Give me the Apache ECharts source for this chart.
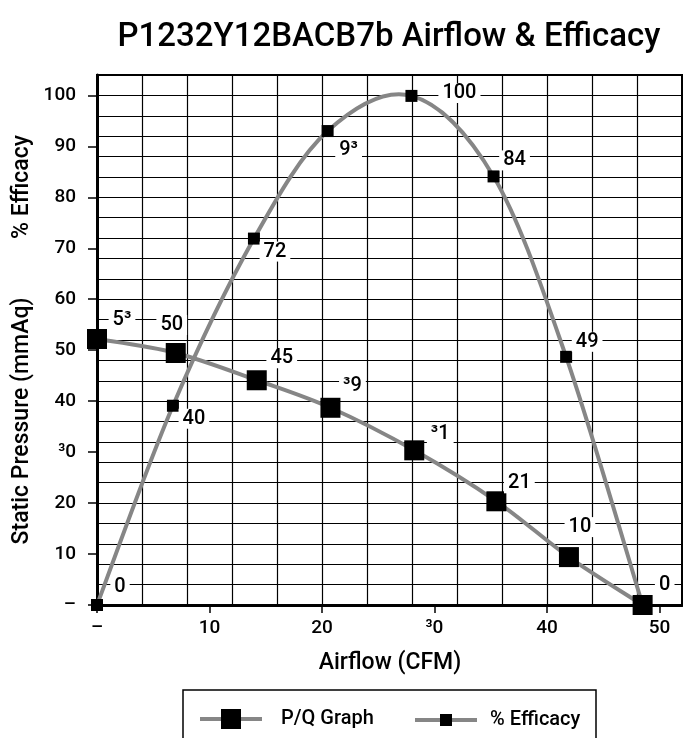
<!DOCTYPE html>
<html><head><meta charset="utf-8">
<script src="https://cdn.jsdelivr.net/npm/echarts@6/dist/echarts.min.js"></script>
<style>html,body{margin:0;padding:0;background:#fff}#c{width:683px;height:738px}</style>
</head><body><div id="c"></div>
<script>
// ---- data ----
const airflowPQ = [0, 7.0, 14.2, 20.75, 28.2, 35.5, 41.95, 48.5];
const pressure  = [52.2, 49.45, 44.1, 38.7, 30.35, 20.35, 9.4, 0];
const pqLabels  = ['5³', '50', '45', '³9', '³1', '21', '10', '0'];
const airflowEff = [0, 6.75, 13.95, 20.5, 27.95, 35.25, 41.7, 48.5];
const efficacy   = [0, 39.1, 71.9, 93.0, 99.9, 84.1, 48.7, 0];
const effLabels  = ['0', '40', '72', '9³', '100', '84', '49', '0'];
const xTickValues = [0, 10, 20, 30, 40, 50];
const xTickText   = ['–', '10', '20', '³0', '40', '50'];
const yTickValues = [0, 10, 20, 30, 40, 50, 60, 70, 80, 90, 100];
const yTickText   = ['–', '10', '20', '³0', '40', '50', '60', '70', '80', '90', '100'];
const seriesNames = ['P/Q Graph', '% Efficacy'];
const titleText = 'P1232Y12BACB7b Airflow & Efficacy';
const xName = 'Airflow (CFM)';
const yName1 = 'Static Pressure (mmAq)';
const yName2 = '% Efficacy';

// ---- label offsets (style only) ----
const pqOffsets  = [[25,-19],[-4,-28],[25,-22],[22,-22],[26,-16],[23,-18],[11,-30],[22,-20]];
const effOffsets = [[23,-18],[21,13],[21,13],[21,19],[48,-3],[21,-16],[21,-15],[22,-20]];

const FONT = 'Roboto';
const lineGray = '#868686';
const chart = echarts.init(document.getElementById('c'), null, {renderer: 'canvas'});

function buildData(xs, ys, offs) {
  return xs.map((x, i) => ({value: [x, ys[i]], label: {offset: offs[i]}}));
}
function pairs(xs, ys) { return xs.map((x, i) => [x, ys[i]]); }

// Smooth curve through the data points (Catmull-Rom segments in pixel space, via the axis scales)
function curveRenderer(xs, ys) {
  return function (params, api) {
    const n = xs.length, i = params.dataIndex;
    if (i >= n - 1) return null;
    const P = k => { k = Math.max(0, Math.min(n - 1, k)); return api.coord([xs[k], ys[k]]); };
    const p0 = P(i - 1), p1 = P(i), p2 = P(i + 1), p3 = P(i + 2);
    return {
      type: 'bezierCurve',
      shape: {
        x1: p1[0], y1: p1[1], x2: p2[0], y2: p2[1],
        cpx1: p1[0] + (p2[0] - p0[0]) / 6, cpy1: p1[1] + (p2[1] - p0[1]) / 6,
        cpx2: p2[0] - (p3[0] - p1[0]) / 6, cpy2: p2[1] - (p3[1] - p1[1]) / 6
      },
      style: {stroke: lineGray, lineWidth: 4, fill: null, lineCap: 'round'}
    };
  };
}

const labelBase = {
  show: true, position: 'inside', color: '#000', fontFamily: FONT, fontSize: 20, fontWeight: 500,
  backgroundColor: '#fff', padding: [0, 4]
};
const legendLine = {color: lineGray, width: 4, opacity: 1};

chart.setOption({
  animation: false,
  backgroundColor: '#fff',
  grid: {left: 97, top: 75, right: 1, bottom: 133, show: true, borderColor: '#000', borderWidth: 2, containLabel: false},
  xAxis: [
    {type: 'value', min: 0, max: 52, interval: 4,
     axisLine: {show: true, onZero: false, lineStyle: {color: '#000', width: 3}},
     axisTick: {show: false}, axisLabel: {show: false},
     splitLine: {show: true, lineStyle: {color: '#000', width: 1.2}}},
    {type: 'value', min: 0, max: 52, position: 'bottom',
     axisLine: {show: false}, splitLine: {show: false},
     axisTick: {show: true, length: 8, customValues: xTickValues, lineStyle: {color: '#000', width: 1.5}},
     axisLabel: {show: true, customValues: xTickValues, margin: 14, color: '#000', fontFamily: FONT, fontSize: 19, fontWeight: 500,
       formatter: v => { const i = xTickValues.indexOf(v); return i >= 0 ? xTickText[i] : ''; }}}
  ],
  yAxis: [
    {type: 'value', min: 0, max: 104, interval: 4,
     axisLine: {show: true, onZero: false, lineStyle: {color: '#000', width: 3}},
     axisTick: {show: false}, axisLabel: {show: false},
     splitLine: {show: true, lineStyle: {color: '#000', width: 1.2}}},
    {type: 'value', min: 0, max: 104, position: 'left',
     axisLine: {show: false}, splitLine: {show: false},
     axisTick: {show: true, length: 9, customValues: yTickValues, lineStyle: {color: '#000', width: 1.5}},
     axisLabel: {show: true, customValues: yTickValues, margin: 21, color: '#000', fontFamily: FONT, fontSize: 19, fontWeight: 500,
       formatter: v => { const i = yTickValues.indexOf(v); return i >= 0 ? yTickText[i] : ''; }}}
  ],
  legend: [
    {data: [seriesNames[0]], left: 198, top: 709, padding: 0, itemWidth: 62, itemHeight: 25, selectedMode: false,
     lineStyle: legendLine,
     textStyle: {color: '#000', fontFamily: FONT, fontSize: 20, fontWeight: 500, padding: [0, 0, 0, 14]}},
    {data: [seriesNames[1]], left: 413, top: 710, padding: 0, itemWidth: 62, itemHeight: 15, selectedMode: false,
     lineStyle: legendLine,
     textStyle: {color: '#000', fontFamily: FONT, fontSize: 20, fontWeight: 500, padding: [0, 0, 0, 8]}}
  ],
  graphic: [
    {type: 'text', x: 389, y: 38, style: {text: titleText, fill: '#000', font: '500 33px ' + FONT, textAlign: 'center', textVerticalAlign: 'middle'}},
    {type: 'text', x: 390, y: 663, style: {text: xName, fill: '#000', font: '500 23px ' + FONT, textAlign: 'center', textVerticalAlign: 'middle'}},
    {type: 'text', x: 22, y: 421, rotation: Math.PI / 2, style: {text: yName1, fill: '#000', font: '500 23px ' + FONT, textAlign: 'center', textVerticalAlign: 'middle'}},
    {type: 'text', x: 22, y: 187, rotation: Math.PI / 2, style: {text: yName2, fill: '#000', font: '500 23px ' + FONT, textAlign: 'center', textVerticalAlign: 'middle'}},
    {type: 'rect', shape: {x: 183, y: 690, width: 413, height: 80}, style: {fill: 'none', stroke: '#000', lineWidth: 1.5}, z: 0}
  ],
  series: [
    {name: 'P/Q curve', type: 'custom', xAxisIndex: 0, yAxisIndex: 0, z: 2, silent: true,
     renderItem: curveRenderer(airflowPQ, pressure), encode: {x: 0, y: 1},
     data: pairs(airflowPQ, pressure)},
    {name: 'Efficacy curve', type: 'custom', xAxisIndex: 0, yAxisIndex: 0, z: 2, silent: true,
     renderItem: curveRenderer(airflowEff, efficacy), encode: {x: 0, y: 1},
     data: pairs(airflowEff, efficacy)},
    {name: seriesNames[0], type: 'line', xAxisIndex: 0, yAxisIndex: 0,
     symbol: 'rect', symbolSize: 20, itemStyle: {color: '#000'},
     lineStyle: {color: lineGray, width: 4, opacity: 0},
     label: Object.assign({}, labelBase, {formatter: p => pqLabels[p.dataIndex]}),
     data: buildData(airflowPQ, pressure, pqOffsets), z: 3},
    {name: seriesNames[1], type: 'line', xAxisIndex: 0, yAxisIndex: 0,
     symbol: 'rect', symbolSize: 12, itemStyle: {color: '#000'},
     lineStyle: {color: lineGray, width: 4, opacity: 0},
     label: Object.assign({}, labelBase, {formatter: p => effLabels[p.dataIndex]}),
     data: buildData(airflowEff, efficacy, effOffsets), z: 3}
  ]
});
</script></body></html>
